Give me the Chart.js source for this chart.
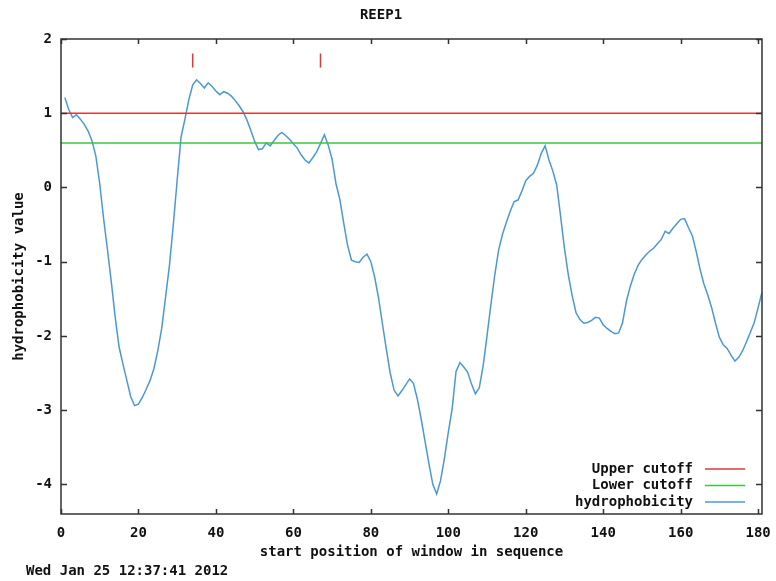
<!DOCTYPE html>
<html>
<head>
<meta charset="utf-8">
<title>REEP1</title>
<script src="https://cdn.jsdelivr.net/npm/chart.js@4.4.1/dist/chart.umd.min.js"></script>
<style>
  html, body { margin: 0; padding: 0; background: #fff; }
  #wrap { width: 776px; height: 581px; position: relative; }
</style>
</head>
<body>
<div id="wrap"><canvas id="hydroChart"></canvas></div>
<script>
const chartTitle = "REEP1";
const dateStamp = "Wed Jan 25 12:37:41 2012";

// window start positions run 1..181
const firstPosition = 1;
const hydrophobicity = [
  1.21, 1.05, 0.94, 0.98, 0.92, 0.85, 0.76, 0.63, 0.42, 0.05,
  -0.42, -0.84, -1.28, -1.75, -2.15, -2.38, -2.6, -2.82, -2.94, -2.92,
  -2.83, -2.72, -2.6, -2.44, -2.2, -1.9, -1.48, -1.05, -0.5, 0.1,
  0.68, 0.92, 1.18, 1.38, 1.45, 1.4, 1.34, 1.41, 1.36, 1.3,
  1.25, 1.29, 1.27, 1.23, 1.17, 1.1, 1.02, 0.91, 0.77, 0.62,
  0.51, 0.52, 0.6, 0.56, 0.63, 0.7, 0.74, 0.7, 0.65, 0.59,
  0.53, 0.44, 0.37, 0.33, 0.4, 0.48, 0.59, 0.71, 0.57, 0.38,
  0.05, -0.16, -0.48, -0.78, -0.98, -1.0, -1.01, -0.94, -0.9, -1.0,
  -1.21, -1.49, -1.84, -2.18, -2.5, -2.73, -2.81, -2.74, -2.66, -2.58,
  -2.64, -2.85, -3.12, -3.42, -3.72, -4.0, -4.13, -3.95, -3.65, -3.3,
  -2.98, -2.48, -2.36, -2.42, -2.49, -2.65, -2.78, -2.7, -2.4, -2.0,
  -1.58, -1.18, -0.84, -0.63, -0.47, -0.32, -0.19, -0.17, -0.05, 0.09,
  0.15, 0.19, 0.3, 0.46, 0.56, 0.37, 0.22, 0.03, -0.39, -0.82,
  -1.18, -1.46, -1.69, -1.78, -1.83, -1.82, -1.79, -1.75, -1.76, -1.85,
  -1.9, -1.94, -1.97, -1.96, -1.82, -1.53, -1.33, -1.17, -1.05, -0.97,
  -0.91, -0.86, -0.82, -0.76, -0.7, -0.59, -0.62, -0.55, -0.49, -0.43,
  -0.42, -0.54, -0.65, -0.86, -1.1, -1.3, -1.45, -1.62, -1.83, -2.02,
  -2.12, -2.17, -2.26, -2.34, -2.29, -2.2, -2.08, -1.95, -1.82, -1.62,
  -1.41
];

const upperCutoff = 1.0;
const lowerCutoff = 0.6;
const xRange = [0, 181];
const yRange = [-4.4, 2];

// predicted segment markers drawn near the top
const segmentMarks = [34, 67];
const segmentMarkLevel = 1.71;

const FONT = "'DejaVu Sans Mono', 'Liberation Mono', monospace";

const hydroPoints = hydrophobicity.map((v, i) => ({ x: firstPosition + i, y: v }));
const upperPoints = xRange.map(x => ({ x: x, y: upperCutoff }));
const lowerPoints = xRange.map(x => ({ x: x, y: lowerCutoff }));
const markPoints = segmentMarks.map(x => ({ x: x, y: segmentMarkLevel }));

// gnuplot style: frame, inward mirrored ticks, legend inside, date stamp
const gnuplotFrame = {
  id: "gnuplotFrame",
  afterDraw(chart) {
    const { ctx, chartArea: a, scales } = chart;
    const xs = scales.x, ys = scales.y;
    ctx.save();
    ctx.strokeStyle = "#333";
    ctx.lineWidth = 1.5;
    ctx.strokeRect(a.left, a.top, a.right - a.left, a.bottom - a.top);
    ctx.beginPath();
    xs.ticks.forEach(t => {
      const px = Math.round(xs.getPixelForValue(t.value)) + 0.5;
      ctx.moveTo(px, a.bottom); ctx.lineTo(px, a.bottom - 5);
      ctx.moveTo(px, a.top); ctx.lineTo(px, a.top + 5);
    });
    ys.ticks.forEach(t => {
      const py = Math.round(ys.getPixelForValue(t.value)) + 0.5;
      ctx.moveTo(a.left, py); ctx.lineTo(a.left + 6, py);
      ctx.moveTo(a.right, py); ctx.lineTo(a.right - 6, py);
    });
    ctx.stroke();

    // legend
    ctx.font = "bold 14px " + FONT;
    ctx.textAlign = "right";
    ctx.textBaseline = "middle";
    let row = 0;
    chart.data.datasets.forEach(ds => {
      if (!ds.inLegend) return;
      const y = a.bottom - 45 + row * 16.5;
      ctx.fillStyle = "#111";
      ctx.fillText(ds.label, a.right - 69, y);
      ctx.strokeStyle = ds.borderColor;
      ctx.lineWidth = 1.5;
      ctx.beginPath();
      ctx.moveTo(a.right - 57, y);
      ctx.lineTo(a.right - 17, y);
      ctx.stroke();
      row++;
    });

    ctx.textAlign = "left";
    ctx.fillStyle = "#111";
    ctx.fillText(dateStamp, 26, 571);
    ctx.restore();
  }
};

new Chart(document.getElementById("hydroChart"), {
  type: "scatter",
  data: {
    datasets: [
      {
        label: "Upper cutoff",
        data: upperPoints,
        showLine: true,
        borderColor: "#d83a3a",
        borderWidth: 1.5,
        pointRadius: 0,
        inLegend: true
      },
      {
        label: "Lower cutoff",
        data: lowerPoints,
        showLine: true,
        borderColor: "#3cc43c",
        borderWidth: 1.5,
        pointRadius: 0,
        inLegend: true
      },
      {
        label: "hydrophobicity",
        data: hydroPoints,
        showLine: true,
        borderColor: "#4a98d8",
        borderWidth: 1.5,
        pointRadius: 0,
        tension: 0,
        inLegend: true
      },
      {
        label: "segments",
        data: markPoints,
        showLine: false,
        pointStyle: "line",
        rotation: 90,
        pointRadius: 7,
        pointBorderWidth: 1.5,
        borderColor: "#d83a3a",
        backgroundColor: "#d83a3a",
        inLegend: false
      }
    ]
  },
  options: {
    responsive: true,
    maintainAspectRatio: false,
    animation: false,
    layout: { padding: { top: 0, right: 14, bottom: 0, left: 0 } },
    plugins: {
      legend: { display: false },
      tooltip: { enabled: false },
      title: {
        display: true,
        text: chartTitle,
        color: "#111",
        font: { family: FONT, size: 14, weight: "bold" },
        padding: { top: 6.6, bottom: 15.6 }
      }
    },
    scales: {
      x: {
        type: "linear",
        min: xRange[0],
        max: xRange[1],
        grid: { display: false, drawTicks: false },
        border: { display: false },
        ticks: {
          stepSize: 20,
          includeBounds: false,
          padding: 11,
          maxRotation: 0,
          color: "#111",
          font: { family: FONT, size: 14, weight: "bold" }
        },
        title: {
          display: true,
          text: "start position of window in sequence",
          color: "#111",
          font: { family: FONT, size: 14, weight: "bold" },
          padding: { bottom: 20.6 }
        },
        afterFit(scale) {
          scale.height = 67;
          scale.paddingLeft = 0;
          scale.paddingRight = 0;
        }
      },
      y: {
        type: "linear",
        min: yRange[0],
        max: yRange[1],
        grid: { display: false, drawTicks: false },
        border: { display: false },
        ticks: {
          stepSize: 1,
          includeBounds: false,
          padding: 9,
          color: "#111",
          font: { family: FONT, size: 14, weight: "bold" }
        },
        title: {
          display: true,
          text: "hydrophobicity value",
          color: "#111",
          font: { family: FONT, size: 14, weight: "bold" },
          padding: { top: 10.6 }
        },
        afterFit(scale) { scale.width = 61; }
      }
    }
  },
  plugins: [gnuplotFrame]
});
</script>
</body>
</html>
